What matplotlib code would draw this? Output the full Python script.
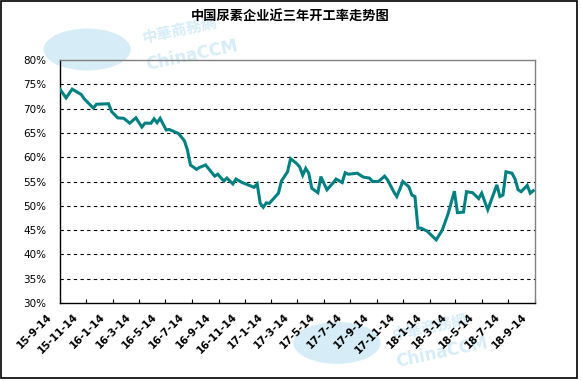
import datetime as dt
import matplotlib
matplotlib.use("Agg")
import matplotlib.pyplot as plt
import matplotlib.dates as mdates
from matplotlib.patches import Rectangle, Ellipse
from matplotlib.ticker import FuncFormatter
import matplotlib.transforms as mtransforms

plt.rcParams["font.family"] = ["Noto Sans CJK SC", "DejaVu Sans"]
plt.rcParams["axes.unicode_minus"] = False

# 周度开工率数据
dates = [
    "2015-09-14", "2015-09-28", "2015-10-12", "2015-11-02", "2015-11-09",
    "2015-11-30", "2015-12-07", "2016-01-04", "2016-01-11", "2016-01-25",
    "2016-02-08", "2016-02-22", "2016-03-07", "2016-03-21", "2016-03-28",
    "2016-04-11", "2016-04-18", "2016-04-25", "2016-05-02", "2016-05-16",
    "2016-05-23", "2016-06-13", "2016-06-27", "2016-07-04", "2016-07-11",
    "2016-07-25", "2016-08-01", "2016-08-15", "2016-09-05", "2016-09-12",
    "2016-09-26", "2016-10-03", "2016-10-17", "2016-10-24", "2016-11-07",
    "2016-11-21", "2016-12-05", "2016-12-12", "2016-12-19", "2016-12-26",
    "2017-01-02", "2017-01-09", "2017-01-30", "2017-02-06", "2017-02-20",
    "2017-02-27", "2017-03-13", "2017-03-20", "2017-03-27", "2017-04-03",
    "2017-04-10", "2017-04-17", "2017-05-01", "2017-05-08", "2017-05-15",
    "2017-05-22", "2017-06-05", "2017-06-12", "2017-06-26", "2017-07-03",
    "2017-07-10", "2017-07-31", "2017-08-14", "2017-08-28", "2017-09-04",
    "2017-09-18", "2017-10-02", "2017-10-09", "2017-10-23", "2017-10-30",
    "2017-11-06", "2017-11-13", "2017-11-27", "2017-12-04", "2017-12-11",
    "2017-12-18", "2017-12-25", "2018-01-08", "2018-01-29", "2018-02-12",
    "2018-02-26", "2018-03-12", "2018-03-19", "2018-04-02", "2018-04-09",
    "2018-04-23", "2018-05-07", "2018-05-14", "2018-05-28", "2018-06-18",
    "2018-06-25", "2018-07-02", "2018-07-09", "2018-07-23", "2018-07-30",
    "2018-08-06", "2018-08-13", "2018-08-27", "2018-09-03", "2018-09-10",
]
rate = [
    74.0, 72.2, 74.0, 72.9, 72.0,
    70.1, 70.9, 71.0, 69.4, 68.1,
    68.0, 67.0, 68.1, 66.2, 67.0,
    67.0, 67.9, 67.1, 68.0, 65.6,
    65.7, 64.9, 63.4, 61.5, 58.4,
    57.5, 57.9, 58.4, 56.1, 56.5,
    55.1, 55.7, 54.5, 55.5, 54.8,
    54.3, 53.8, 54.5, 50.5, 49.7,
    50.6, 50.5, 52.6, 55.1, 57.0,
    59.7, 58.7, 58.0, 56.3, 57.7,
    56.7, 53.6, 52.7, 56.0, 54.6,
    53.3, 54.7, 55.5, 54.8, 56.8,
    56.5, 56.7, 55.9, 55.7, 55.0,
    55.0, 56.1, 55.3, 52.9, 51.9,
    53.4, 55.0, 53.9, 52.2, 51.9,
    45.4, 45.4, 44.8, 43.0, 45.0,
    48.5, 53.0, 48.6, 48.7, 52.9,
    52.7, 51.5, 52.6, 49.2, 54.3,
    51.9, 52.2, 57.0, 56.7, 55.5,
    53.3, 52.9, 54.2, 52.6, 53.1,
]
yticks = [30, 35, 40, 45, 50, 55, 60, 65, 70, 75, 80]
x_start = "2015-09-14"
x_end = "2018-09-14"

title = "中国尿素企业近三年开工率走势图"

x = [dt.datetime.strptime(d, "%Y-%m-%d") for d in dates]

fig = plt.figure(figsize=(5.81, 3.81), dpi=100)
fig.patch.set_facecolor("white")

# 水印 (淡蓝色)
wm = "#d6edf7"
for (cx, cy) in [(0.15, 0.87), (0.58, 0.10)]:
    fig.patches.append(Ellipse((cx, cy), 0.15, 0.11, transform=fig.transFigure,
                               facecolor=wm, edgecolor="none", zorder=0))
for (tx, ty) in [(0.31, 0.92), (0.74, 0.14)]:
    fig.text(tx, ty, "中華商務網", color=wm, fontsize=11, rotation=12,
             ha="center", va="center", fontweight="bold", zorder=0)
    fig.text(tx + 0.02, ty - 0.065, "ChinaCCM", color=wm, fontsize=12,
             rotation=12, ha="center", va="center", fontweight="bold",
             family="DejaVu Sans", zorder=0)

ax = fig.add_axes([60 / 581, 1 - 303 / 381, 475 / 581, 243 / 381])
ax.set_zorder(2)
ax.set_facecolor("none")
ax.plot(x, rate, color="#008080", linewidth=2.2, solid_joinstyle="miter", zorder=3)

ax.set_ylim(30, 80)
ax.set_yticks(yticks)
ax.yaxis.set_major_formatter(FuncFormatter(lambda v, p: "%d%%" % v))
for v in yticks[1:-1]:
    ax.axhline(v, color="black", linewidth=0.8, linestyle=(0, (3, 3)), zorder=1)

x0 = dt.datetime.strptime(x_start, "%Y-%m-%d")
x1 = dt.datetime.strptime(x_end, "%Y-%m-%d")
ax.set_xlim(x0, x1)
ax.xaxis.set_major_locator(mdates.MonthLocator(bymonth=[1, 3, 5, 7, 9, 11], bymonthday=14))
ax.xaxis.set_major_formatter(FuncFormatter(
    lambda v, p: "%d-%d-%d" % (mdates.num2date(v).year % 100,
                               mdates.num2date(v).month,
                               mdates.num2date(v).day)))

ax.tick_params(axis="y", length=0, pad=10, labelsize=7.5, labelcolor="black")
ax.tick_params(axis="x", direction="in", length=3, width=0.8, pad=6,
               labelsize=7.5, labelcolor="black")
offset = mtransforms.ScaledTranslation(-6 / 100, 0, fig.dpi_scale_trans)
for lbl in ax.get_xticklabels():
    lbl.set_family("DejaVu Sans")
    lbl.set_fontweight("bold")
    lbl.set_rotation(45)
    lbl.set_ha("right")
    lbl.set_va("top")
    lbl.set_transform(lbl.get_transform() + offset)
for lbl in ax.get_yticklabels():
    lbl.set_family("DejaVu Sans")

ax.spines["left"].set_color("black")
ax.spines["bottom"].set_color("black")
ax.spines["top"].set_color("#808080")
ax.spines["right"].set_color("#808080")
for s in ax.spines.values():
    s.set_linewidth(1.0)

fig.text(290 / 581, 1 - 17 / 381, title, ha="center", va="center",
         fontsize=9.5, fontweight="bold", color="black", zorder=3)

# 外框
fig.patches.append(Rectangle((1 / 581, 3 / 381), 576 / 581, 377 / 381,
                             transform=fig.transFigure, fill=False,
                             edgecolor="black", linewidth=1.2, zorder=5))

fig.savefig("out.png", dpi=100)
